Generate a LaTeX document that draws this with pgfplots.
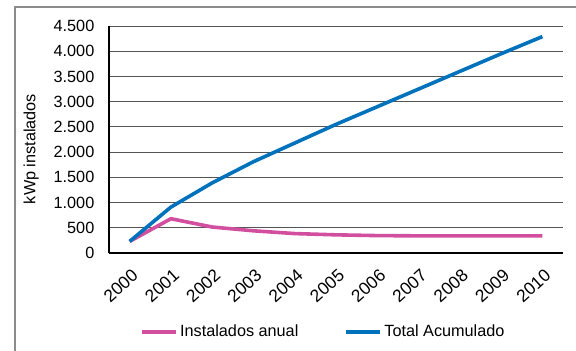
\documentclass[border=0pt]{standalone}
\usepackage{pgfplots}
\pgfplotsset{compat=1.18}
\usepackage{fontspec}
\setmainfont{Liberation Sans}
\definecolor{cblue}{HTML}{0072BC}
\definecolor{cpink}{HTML}{D24FA0}
\definecolor{gridc}{HTML}{555555}
\definecolor{framec}{HTML}{8C8C8C}
\begin{document}
\begin{tikzpicture}[x=1bp,y=1bp]
\useasboundingbox (0,0) rectangle (576,350);
\draw[framec, line width=1.5bp] (15,-10) -- (15,343) -- (590,343);
\begin{axis}[
  at={(109bp,97bp)}, anchor=south west,
  scale only axis, width=454bp, height=227bp,
  xmin=-0.5, xmax=10.5, ymin=0, ymax=4500,
  axis x line*=bottom, axis y line*=left,
  x axis line style={line width=2.2bp, -},
  y axis line style={line width=1.8bp, -},
  xtick={0,...,10},
  xticklabels={2000,2001,2002,2003,2004,2005,2006,2007,2008,2009,2010},
  ytick={0,500,...,4500},
  major tick length=0pt,
  ymajorgrids=true,
  grid style={gridc, line width=0.9bp},
  font=\fontsize{16.3}{19}\selectfont,
  /pgf/number format/assume math mode=true,
  /pgf/number format/1000 sep={.},
  yticklabel style={anchor=east, inner sep=0pt, xshift=-14.5bp},
  xticklabel style={rotate=42, anchor=north east, inner sep=0pt, xshift=-9bp, yshift=-12bp, font=\fontsize{17.5}{20}\selectfont},
  ylabel={kWp instalados},
  every axis y label/.append style={at={(-70bp,0.458*227bp)}, anchor=south, inner sep=0pt},
  legend columns=2,
  legend style={draw=none, fill=none, at={(0.472,-0.346)}, anchor=center,
    /tikz/every even column/.append style={column sep=44bp},
    font=\fontsize{16.3}{19}\selectfont},
  legend image code/.code={\draw[#1, line width=4bp] (0bp,0bp) -- (34bp,0bp);},
]
\addplot[cpink, line width=3.6bp, line join=round] coordinates {
(0,230) (1,680) (2,515) (3,440) (4,385) (5,360) (6,345) (7,340) (8,340) (9,340) (10,340)};
\addlegendentry{Instalados anual}
\addplot[cblue, line width=3.6bp, line join=round] coordinates {
(0,230) (1,910) (2,1390) (3,1810) (4,2180) (5,2550) (6,2900) (7,3250) (8,3600) (9,3950) (10,4290)};
\addlegendentry{Total Acumulado}
\end{axis}
\end{tikzpicture}
\end{document}
